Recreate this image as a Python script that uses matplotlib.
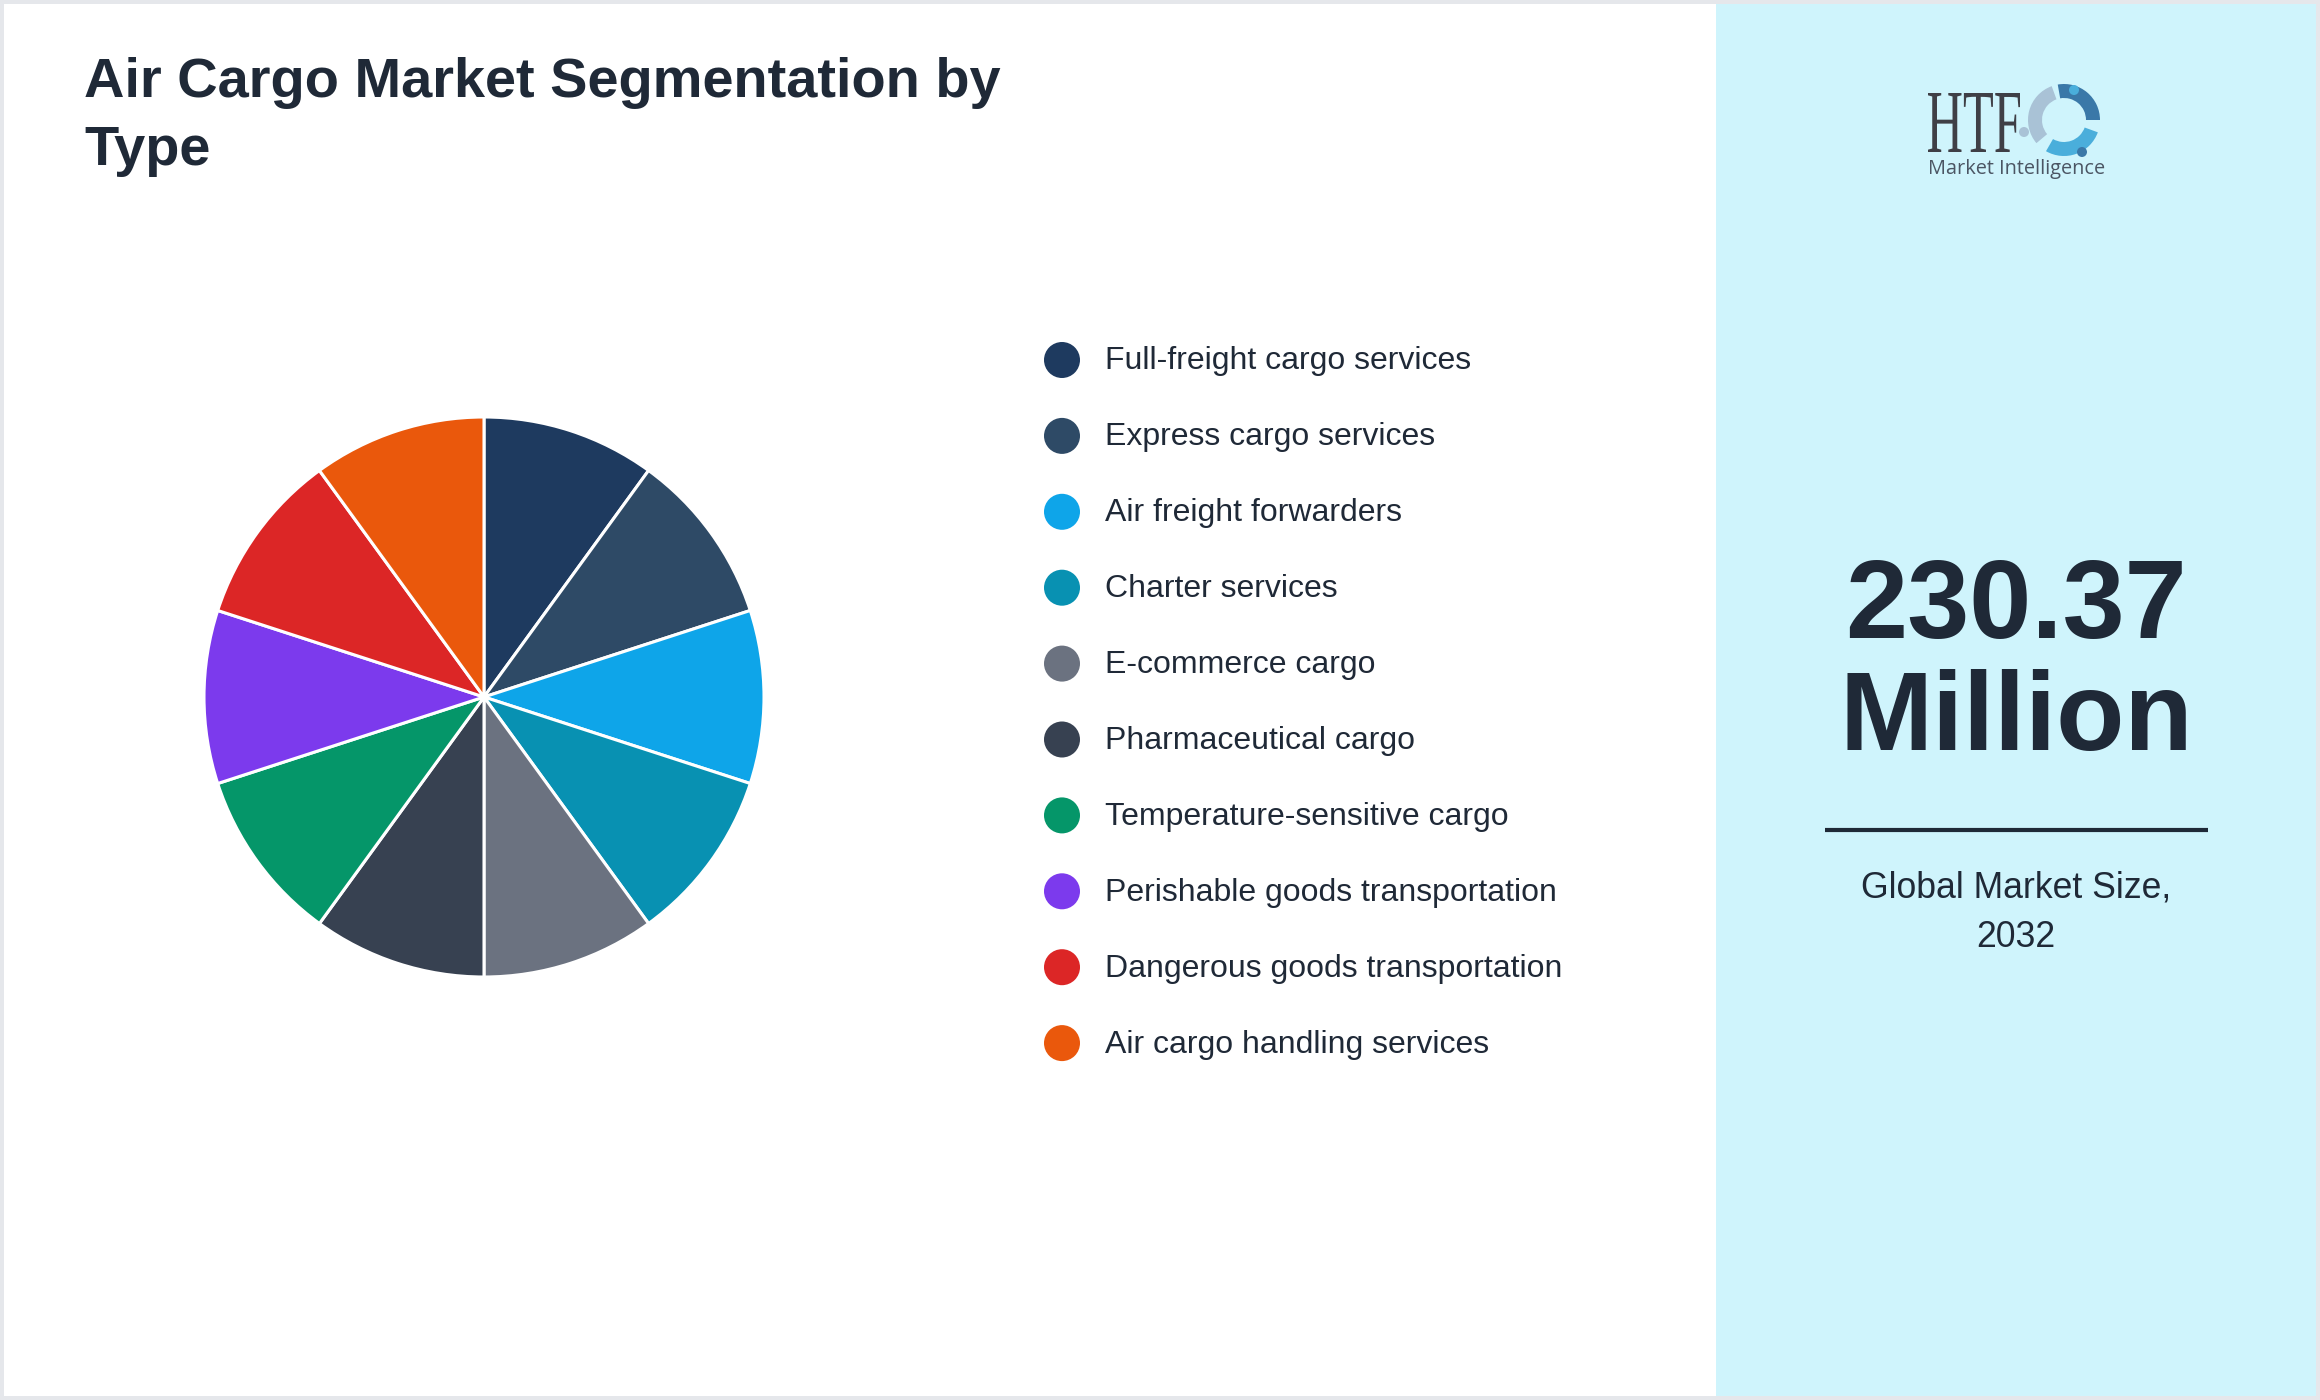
import matplotlib
matplotlib.use("Agg")
import matplotlib.pyplot as plt
from matplotlib.patches import Rectangle, Circle, Wedge, PathPatch
from matplotlib.textpath import TextPath
from matplotlib.font_manager import FontProperties
from matplotlib.transforms import Affine2D

W, H = 2320, 1400
DPI = 100

categories = [
    "Full-freight cargo services",
    "Express cargo services",
    "Air freight forwarders",
    "Charter services",
    "E-commerce cargo",
    "Pharmaceutical cargo",
    "Temperature-sensitive cargo",
    "Perishable goods transportation",
    "Dangerous goods transportation",
    "Air cargo handling services",
]
shares = [10, 10, 10, 10, 10, 10, 10, 10, 10, 10]
colors = ["#1e3a5f", "#2e4a66", "#0ea5e9", "#0891b2", "#6b7280",
          "#374151", "#059669", "#7c3aed", "#dc2626", "#ea580c"]

title_lines = ["Air Cargo Market Segmentation by", "Type"]
market_value = "230.37"
market_unit = "Million"
market_label = ["Global Market Size,", "2032"]

TXT = "#1f2937"
plt.rcParams['font.family'] = ['Liberation Sans', 'DejaVu Sans']

fig = plt.figure(figsize=(W / DPI, H / DPI), dpi=DPI)
fig.patch.set_facecolor("#e5e7eb")

# overlay axes in pixel coordinates
ov = fig.add_axes([0, 0, 1, 1])
ov.set_xlim(0, W)
ov.set_ylim(H, 0)
ov.axis("off")

ov.add_patch(Rectangle((4, 4), 1716 - 4, H - 8, facecolor="white", edgecolor="none", zorder=0))
ov.add_patch(Rectangle((1716, 4), W - 4 - 1716, H - 8, facecolor="#cff4fc", edgecolor="none", zorder=0))

# title
ov.text(84, 97, title_lines[0], fontsize=40.3, fontweight="bold",
        color=TXT, ha="left", va="baseline")
ov.text(84, 165, title_lines[1], fontsize=40.3, fontweight="bold", color=TXT,
        ha="left", va="baseline")

# pie
cx, cy, r = 484, 697, 280
pax = fig.add_axes([(cx - r) / W, 1 - (cy + r) / H, 2 * r / W, 2 * r / H])
pax.pie(shares, colors=colors, startangle=90, counterclock=False, radius=1,
        wedgeprops=dict(edgecolor="white", linewidth=2.2))
pax.set_xlim(-1, 1)
pax.set_ylim(-1, 1)
pax.set_aspect("auto")
pax.axis("off")

# legend
y0, dy = 360, 75.9
for i, (lab, col) in enumerate(zip(categories, colors)):
    y = y0 + i * dy
    ov.add_patch(Circle((1062, y), 18, facecolor=col, edgecolor="none", zorder=3))
    ov.text(1105, y - 2, lab, fontsize=23, color=TXT, ha="left", va="center_baseline")

# right panel numbers
ov.text(2016, 638, market_value, fontsize=80.5, fontweight="bold", color=TXT,
        ha="center", va="baseline")
ov.text(2016, 750, market_unit, fontsize=80.5, fontweight="bold", color=TXT,
        ha="center", va="baseline")
ov.plot([1825, 2208], [830, 830], color=TXT, linewidth=3, solid_capstyle="butt")
ov.text(2016, 898, market_label[0], fontsize=25.7, color=TXT, ha="center", va="baseline")
ov.text(2016, 947, market_label[1], fontsize=25.7, color=TXT, ha="center", va="baseline")

# logo: condensed serif "HTF"
tp = TextPath((0, 0), "HTF", size=100, prop=FontProperties(family="Liberation Serif"))
ext = tp.get_extents()
sx = 92 / ext.width
sy = 59 / ext.height
tr = Affine2D().translate(-ext.x0, 0).scale(sx, -sy).translate(1928, 152) + ov.transData
ov.add_patch(PathPatch(tp, facecolor="#3f3f46", edgecolor="none", transform=tr))
ov.text(1928, 174, "Market Intelligence", fontsize=14.3, family=["Open Sans", "DejaVu Sans"],
        color="#4b5563", ha="left", va="baseline")
lc = (2064, 120)
ov.add_patch(Wedge(lc, 36, 20, 120, width=14, facecolor="#4aaedb", edgecolor="none"))
ov.add_patch(Wedge(lc, 36, 140, 250, width=14, facecolor="#a9c2d6", edgecolor="none"))
ov.add_patch(Wedge(lc, 36, 260, 360, width=14, facecolor="#3a78a8", edgecolor="none"))
ov.add_patch(Circle((2074, 90), 5, facecolor="#4aaedb", edgecolor="none"))
ov.add_patch(Circle((2024, 132), 5, facecolor="#a9c2d6", edgecolor="none"))
ov.add_patch(Circle((2082, 152), 5, facecolor="#3a78a8", edgecolor="none"))

fig.savefig("out.png", dpi=DPI, facecolor=fig.get_facecolor())
